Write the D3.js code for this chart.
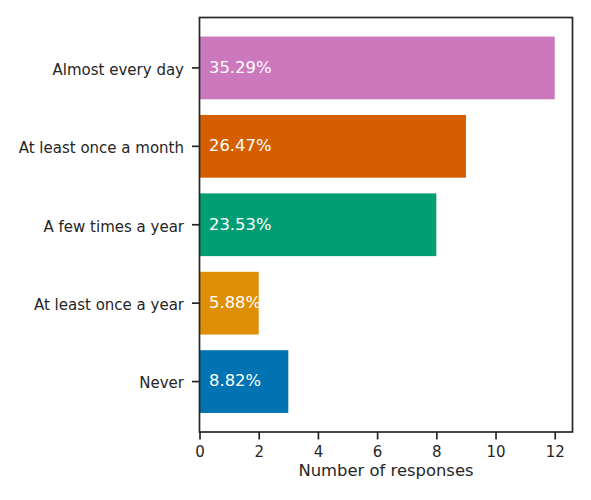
<!DOCTYPE html>
<html>
<head>
<meta charset="utf-8">
<script src="https://cdn.jsdelivr.net/npm/d3@7"></script>
<style>
  body { margin: 0; background: #fff; }
  svg { display: block; font-family: "DejaVu Sans", sans-serif; }
</style>
</head>
<body>
<svg id="chart" width="591" height="500"></svg>
<script>
// data, top to bottom
const categories = ["Almost every day", "At least once a month", "A few times a year", "At least once a year", "Never"];
const counts = [12, 9, 8, 2, 3];
const percentLabels = ["35.29%", "26.47%", "23.53%", "5.88%", "8.82%"];
const barColors = ["#CC78BC", "#D55E00", "#029E73", "#DE8F05", "#0173B2"];
const xTicks = [0, 2, 4, 6, 8, 10, 12];

const margin = { top: 17.5, right: 18.5, bottom: 68, left: 199.5 };
const WIDTH = 591, HEIGHT = 500;
const innerW = WIDTH - margin.left - margin.right;
const innerH = HEIGHT - margin.top - margin.bottom;
const INK = "#262626";

const svg = d3.select("#chart");
const g = svg.append("g").attr("transform", `translate(${margin.left},${margin.top})`);

const x = d3.scaleLinear().domain([0, 12.6]).range([0, innerW]);
const y = d3.scaleBand().domain(categories).range([0, innerH])
    .paddingInner(0.2).paddingOuter(0.243);

// bars
g.selectAll("rect.bar")
  .data(categories)
  .join("rect")
  .attr("class", "bar")
  .attr("x", x(0))
  .attr("y", d => y(d))
  .attr("width", (d, i) => x(counts[i]) - x(0))
  .attr("height", y.bandwidth())
  .attr("fill", (d, i) => barColors[i]);

// percentage labels inside bars
g.selectAll("text.pct")
  .data(categories)
  .join("text")
  .attr("class", "pct")
  .attr("x", x(0) + 9.5)
  .attr("y", d => y(d) + y.bandwidth() / 2)
  .attr("dy", "0.29em")
  .attr("fill", "#fff")
  .style("font-size", "16.4px")
  .text((d, i) => percentLabels[i]);

// frame
g.append("rect")
  .attr("width", innerW)
  .attr("height", innerH)
  .attr("fill", "none")
  .attr("stroke", INK)
  .attr("stroke-width", 1.7);

// x axis
const xAxis = g.append("g")
  .attr("transform", `translate(0,${innerH})`)
  .call(d3.axisBottom(x).tickValues(xTicks).tickSize(7.5).tickPadding(6.5).tickFormat(d3.format("d")));
xAxis.select(".domain").remove();
xAxis.selectAll("line").attr("stroke", INK).attr("stroke-width", 1.7);
xAxis.selectAll("text").attr("fill", INK).style("font-size", "15px").attr("font-family", "DejaVu Sans");

// y axis
const yAxis = g.append("g")
  .call(d3.axisLeft(y).tickSize(7.5).tickPadding(8));
yAxis.select(".domain").remove();
yAxis.selectAll("line").attr("stroke", INK).attr("stroke-width", 1.7);
yAxis.selectAll("text").attr("fill", INK).attr("dy", "0.45em")
  .style("font-size", "15px").attr("font-family", "DejaVu Sans");

// axis title
g.append("text")
  .attr("x", innerW / 2)
  .attr("y", innerH + 44)
  .attr("text-anchor", "middle")
  .attr("fill", INK)
  .style("font-size", "16.4px")
  .text("Number of responses");
</script>
</body>
</html>
